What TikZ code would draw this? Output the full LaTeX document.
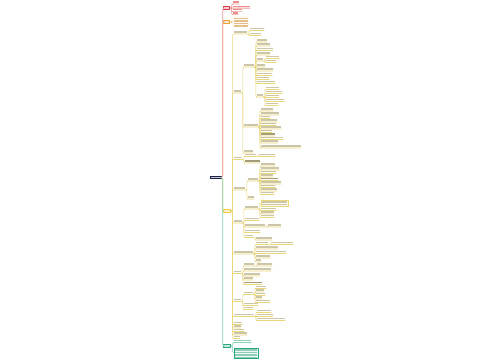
\documentclass[tikz,border=0pt]{standalone}
\definecolor{navy}{HTML}{1E2147}
\definecolor{rd}{HTML}{E0404A}
\definecolor{rdl}{HTML}{EE9A9A}
\definecolor{org}{HTML}{E9A23B}
\definecolor{orgl}{HTML}{F2C27E}
\definecolor{yel}{HTML}{F1CB45}
\definecolor{yell}{HTML}{E9D77A}
\definecolor{grn}{HTML}{25A87C}
\definecolor{grnl}{HTML}{86D2B4}
\definecolor{txt}{HTML}{CBC5A9}
\definecolor{txtd}{HTML}{A39C78}
\definecolor{txtr}{HTML}{EC8C8C}
\definecolor{txto}{HTML}{E6C08A}
\definecolor{txtg}{HTML}{8FCDB6}
\def\tc{txt}\def\lc{yell}
\tikzset{
 ln/.style={draw=\lc, line width=0.55pt, rounded corners=1pt},
 tb/.style={anchor=south west, inner sep=0pt, minimum height=2.6pt,
   path picture={\fill[\tc] (path picture bounding box.north west) rectangle ([yshift=0.9pt]path picture bounding box.south east);}},
 dk/.style={path picture={\fill[txtd] (path picture bounding box.north west) rectangle ([yshift=0.9pt]path picture bounding box.south east);}},
 mlb/.style={anchor=south west, inner sep=0pt,
   path picture={\foreach \o in {1.2,3.8,6.4,9.0}{\fill[\tc] ([xshift=1pt,yshift={-\o*1pt}]path picture bounding box.north west) rectangle ([xshift=-1pt,yshift={-(\o+1.5)*1pt}]path picture bounding box.north east);}}},
 lone/.style={inner sep=0pt, minimum width=7pt, minimum height=3.2pt,
   path picture={\fill[white,opacity=0.75] ([xshift=1pt,yshift=-1pt]path picture bounding box.north west) rectangle ([xshift=-1pt,yshift=1pt]path picture bounding box.south east);}},
}
\newcommand\kid[6][]{\node[tb,minimum width=#6 pt,#1] (#3) at (#4,#5) {};
 \draw[ln] (#2) -- ++(1.5,0) |- (#3.south west) -- (#3.south east);}
\begin{document}
\begin{tikzpicture}[x=1pt,y=-1pt]
\fill[white] (0,0) rectangle (500,360);
\useasboundingbox (0,0) rectangle (500,360);

% root and first level
\node[lone, fill=navy, minimum width=12pt, minimum height=3.8pt] (root) at (215.5,177.5) {};
\node[lone, fill=rd] (r1) at (226.5,8) {};
\node[lone, fill=org] (o1) at (226.5,22) {};
\node[lone, fill=yel, minimum width=8pt] (y1) at (227,211) {};
\node[lone, fill=grn, minimum width=8pt] (g1) at (227,346) {};
\draw[draw=orgl, line width=0.6pt, rounded corners=1.5pt] (root.east) -- ++(1,0) |- (o1.west);
\draw[draw=rdl, line width=0.6pt, rounded corners=1.5pt] (root.east) -- ++(1,0) |- (r1.west);
\draw[draw=yell, line width=0.6pt, rounded corners=1.5pt] (root.east) -- ++(1,0) |- (y1.west);
\draw[draw=grnl, line width=0.6pt, rounded corners=1.5pt] (root.east) -- ++(1,0) |- (g1.west);

% red branch
\def\tc{txtr}\def\lc{rdl}
\kid{r1.east}{ra}{233}{4}{6}
\kid[fill=rd!18]{r1.east}{rb}{233}{8.3}{17}
\kid{r1.east}{rc}{233}{11.4}{9}
\kid{r1.east}{rdd}{233}{14.6}{5}

% orange branch
\def\tc{txto}\def\lc{orgl}
\node[mlb, fill=org!6, minimum width=16pt, minimum height=10.5pt] (oa) at (233,27) {};
\draw[ln] (o1.east) -- ++(1.5,0) |- (oa.west);

% yellow branch
\def\tc{txt}\def\lc{yell}
\kid{y1.east}{A1}{234}{34}{13}
  \kid{A1.south east}{A1a}{250}{30.5}{14}
  \kid{A1.south east}{A1b}{250}{35.5}{11}
\kid{y1.east}{A}{234}{93}{7}
  \kid{A.south east}{A2}{244}{67}{10}
    \kid{A2.south east}{A2a}{257}{42}{10}
    \kid{A2.south east}{A2b}{257}{46}{13}
    \kid{A2.south east}{A2c}{257}{50.5}{16}
    \kid{A2.south east}{A2d}{257}{55}{13}
    \kid{A2.south east}{A2e}{257}{61}{6}
      \kid{A2e.south east}{A2ea}{266}{58.5}{13}
      \kid{A2e.south east}{A2eb}{266}{62.5}{10}
    \kid{A2.south east}{A2f}{257}{67}{8}
    \kid{A2.south east}{A2g}{257}{71}{16}
    \kid{A2.south east}{A2h}{257}{75.5}{15}
    \kid{A2.south east}{A2i}{257}{79.5}{12}
    \kid{A2.south east}{A2j}{257}{83.5}{18}
    \kid{A2.south east}{A2k}{257}{97}{6}
      \kid{A2k.south east}{A2ka}{266}{89.5}{13}
      \kid{A2k.south east}{A2kb}{266}{93.5}{16}
      \kid{A2k.south east}{A2kc}{266}{97.5}{13}
      \kid{A2k.south east}{A2kd}{266}{101.5}{18}
      \kid{A2k.south east}{A2ke}{266}{105.5}{12}
  \kid{A.south east}{A3}{244}{127}{14}
    \kid{A3.south east}{A3a}{261}{111}{12}
    \kid{A3.south east}{A3b}{261}{115}{18}
    \kid{A3.south east}{A3c}{261}{118.5}{9}
    \kid{A3.south east}{A3d}{261}{122}{16}
    \kid{A3.south east}{A3e}{261}{125.5}{15}
    \kid{A3.south east}{A3f}{261}{129}{20}
    \kid{A3.south east}{A3g}{261}{132.5}{11}
    \kid[dk]{A3.south east}{A3h}{261}{136}{14}
    \kid{A3.south east}{A3i}{261}{139.5}{22}
    \kid{A3.south east}{A3j}{261}{143}{17}
    \kid{A3.south east}{A3k}{261}{148}{40}
  \kid{A.south east}{A4}{244}{153}{9}
\kid{y1.east}{B}{234}{159.5}{8}
  \kid{B.south east}{B1}{245}{156.5}{11}
    \kid{B1.south east}{B1a}{259}{156.5}{16}
  \kid[dk]{B.south east}{B2}{245}{163}{15}
\kid{y1.east}{C}{234}{190}{11}
  \kid{C.south east}{C1}{248}{181}{10}
    \kid{C1.south east}{C1a}{261}{166}{14}
    \kid{C1.south east}{C1b}{261}{170}{18}
    \kid{C1.south east}{C1c}{261}{173.5}{15}
    \kid{C1.south east}{C1d}{261}{177}{12}
    \kid[dk]{C1.south east}{C1e}{261}{180.5}{17}
    \kid{C1.south east}{C1f}{261}{184}{20}
    \kid{C1.south east}{C1g}{261}{187.5}{14}
    \kid{C1.south east}{C1h}{261}{191}{16}
    \kid{C1.south east}{C1i}{261}{194.5}{13}
  \kid{C.south east}{C2}{248}{199}{6}
\kid{y1.east}{D}{234}{223}{8}
  \kid{D.south east}{D1}{245}{209}{13}
    \node[mlb, draw=yell, line width=0.4pt, fill=yel!10, minimum width=27pt, minimum height=6.5pt] (D1a) at (261,206.5) {};
    \draw[ln] (D1.south east) -- ++(1.5,0) |- (D1a.west);
    \kid{D1.south east}{D1b}{261}{210.5}{15}
    \kid{D1.south east}{D1c}{261}{214}{13}
    \kid{D1.south east}{D1d}{261}{217.5}{13}
  \kid{D.south east}{D2}{245}{220.5}{14}
  \kid{D.south east}{D3}{245}{227}{20}
    \kid{D3.south east}{D3a}{268}{227}{13}
  \kid{D.south east}{D4}{245}{232.5}{15}
  \kid{D.south east}{D5}{245}{237.5}{8}
    \kid{D5.south east}{D5a}{256}{240}{16}
\kid{y1.east}{E}{234}{254}{19}
  \kid{E.south east}{E1}{256}{244.5}{12}
    \kid{E1.south east}{E1a}{271}{244.5}{22}
  \kid{E.south east}{E2}{256}{249}{22}
  \kid{E.south east}{E3}{256}{253.5}{30}
  \kid{E.south east}{E4}{256}{258}{14}
  \kid{E.south east}{E5}{256}{262}{5}
\kid{y1.east}{F}{234}{273.5}{7}
  \kid{F.south east}{F1}{244}{266}{10}
    \kid{F1.south east}{F1a}{257}{266}{15}
  \kid{F.south east}{F2}{244}{271}{27}
  \kid{F.south east}{F3}{244}{276}{16}
  \kid{F.south east}{F4}{244}{280}{9}
  \kid[dk]{F.south east}{F5}{244}{284.5}{18}
\kid{y1.east}{G}{234}{301.5}{7}
  \kid{G.south east}{G1}{244}{294.5}{9}
    \kid{G1.south east}{G1a}{256}{288.5}{10}
    \kid{G1.south east}{G1b}{256}{292}{8}
    \kid{G1.south east}{G1c}{256}{295.5}{9}
    \kid{G1.south east}{G1d}{256}{299}{6}
    \kid{G1.south east}{G1e}{256}{302.5}{14}
  \kid{G.south east}{G2}{244}{305.5}{14}
  \kid{G.south east}{G3}{244}{309.5}{9}
\kid{y1.east}{H}{234}{316.5}{20}
  \kid{H.south east}{Ha}{257}{312.5}{14}
  \kid{H.south east}{Hb}{257}{316.5}{16}
  \kid{H.south east}{Hc}{257}{320.5}{28}
\kid{y1.east}{I1}{234}{324.5}{8}
\kid{y1.east}{I2}{234}{328}{7}
\kid{y1.east}{I3}{234}{331.5}{10}
\kid{y1.east}{I4}{234}{335}{13}
\kid{y1.east}{I5}{234}{338.5}{6}

% green branch
\def\tc{txtg}\def\lc{grnl}
\kid{g1.east}{ga}{234}{342.5}{17}
\node[mlb, draw=grn, line width=0.4pt, fill=grn!8, minimum width=24pt, minimum height=10pt] (gb) at (234,358) {};
\draw[ln] (g1.east) -- ++(1.5,0) |- (gb.west);
\end{tikzpicture}
\end{document}
